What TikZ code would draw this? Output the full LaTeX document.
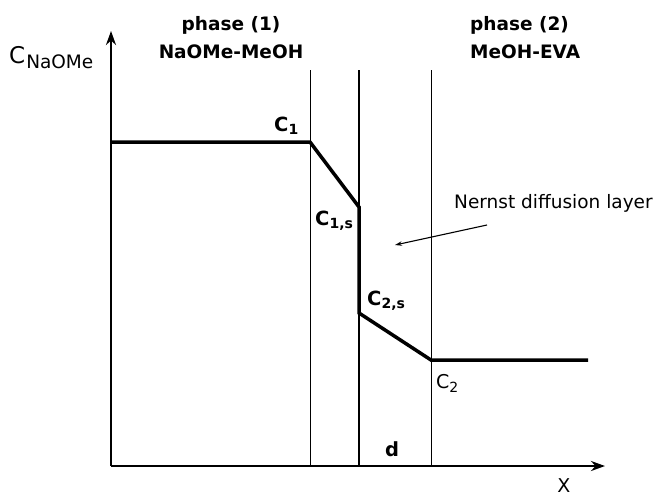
\documentclass[tikz,border=0pt]{standalone}
\usepackage{fontspec}
\setmainfont{DejaVu Sans}
\usetikzlibrary{arrows.meta}
\newcommand\lowsub[2]{\raisebox{-#1pt}{\fontsize{14}{14}\selectfont #2}}
\tikzset{
  axis/.style={line width=2.8pt, -{Stealth[length=14pt,width=10pt]}},
  thinline/.style={line width=1pt},
  thickline/.style={line width=2.8pt},
  profile/.style={line width=3.5pt, line join=miter},
  lbl/.style={inner sep=0pt, anchor=base west, font=\fontsize{19.5}{20}\selectfont\bfseries},
  lblr/.style={inner sep=0pt, anchor=base west, font=\fontsize{19}{20}\selectfont},
  title/.style={inner sep=0pt, font=\fontsize{18.5}{20}\selectfont\bfseries},
  pointer/.style={line width=1.1pt, -{Stealth[length=7pt,width=4.5pt]}}
}
\begin{document}
\begin{tikzpicture}[x=1pt,y=-1pt]
\useasboundingbox (0,0) rectangle (653,496);
% axes
\coordinate (O) at (111,466);
\coordinate (ytip) at (111,31);
\coordinate (xtip) at (605,466);
\draw[axis] (O) -- (ytip);
\draw[axis] (O) -- (xtip);
% vertical boundaries
\coordinate (v1t) at (310,70); \coordinate (v1b) at (310,466);
\coordinate (v2t) at (359,70); \coordinate (v2b) at (359,466);
\coordinate (v3t) at (431,70); \coordinate (v3b) at (431,466);
\draw[thinline] (v1t) -- (v1b);
\draw[thickline] (v2t) -- (v2b);
\draw[thinline] (v3t) -- (v3b);
% concentration profile
\coordinate (p0) at (111,142);
\coordinate (p1) at (310,142);
\coordinate (p2) at (359,207);
\coordinate (p3) at (359,313);
\coordinate (p4) at (431,360);
\coordinate (p5) at (588,360);
\draw[profile] (p0) -- (p1) -- (p2) -- (p3) -- (p4) -- (p5);
% titles
\node[title, anchor=base] (ph1) at (231,30) {phase (1)};
\node[title, anchor=base] (ph1b) at (231,58) {NaOMe-MeOH};
\node[title, anchor=base west] (ph2) at (470,30) {phase (2)};
\node[title, anchor=base west] (ph2b) at (470,58) {MeOH-EVA};
% axis labels
\node[inner sep=0pt, anchor=base west] (ylab) at (9,63)
  {\fontsize{23}{24}\selectfont C\hspace{1pt}\raisebox{-5pt}{\fontsize{18.5}{20}\selectfont NaOMe}};
\node[lblr, anchor=base] (xlab) at (564,492) {X};
% point labels
\node[lbl] (c1) at (274,131) {C\lowsub{3}{1}};
\node[lbl] (c1s) at (315,225) {C\lowsub{3}{1,s}};
\node[lbl] (c2s) at (367,305) {C\lowsub{3}{2,s}};
\node[lblr] (c2) at (436,388) {C\lowsub{4}{2}};
\node[lbl, anchor=base] (d) at (392,456) {d};
% Nernst label
\node[lblr, font=\fontsize{18.5}{20}\selectfont] (nernst) at (454,208) {Nernst diffusion layer};
\coordinate (ns) at (487,225);
\coordinate (ne) at (395,245);
\draw[pointer] (ns) -- (ne);
\end{tikzpicture}
\end{document}
